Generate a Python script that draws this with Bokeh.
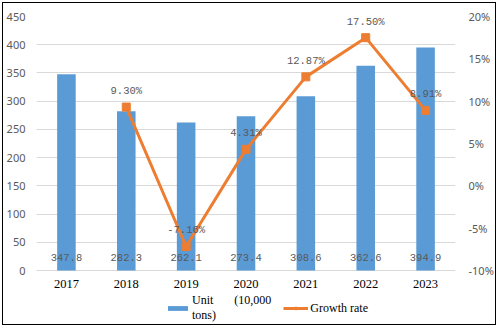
from bokeh.plotting import figure
from bokeh.models import (ColumnDataSource, Range1d, LinearAxis, FactorRange, FixedTicker,
                          PrintfTickFormatter, Legend, LegendItem)
from bokeh.embed import file_html
from bokeh.resources import INLINE
from bokeh.core.properties import value

years = ["2017", "2018", "2019", "2020", "2021", "2022", "2023"]
output = [347.8, 282.3, 262.1, 273.4, 308.6, 362.6, 394.9]
growth_years = ["2018", "2019", "2020", "2021", "2022", "2023"]
growth = [9.30, -7.16, 4.31, 12.87, 17.50, 8.91]
left_ticks = [0, 50, 100, 150, 200, 250, 300, 350, 400, 450]
right_ticks = [-10, -5, 0, 5, 10, 15, 20]
bar_label = "Unit       (10,000\ntons)"
line_label = "Growth rate"

bar_src = ColumnDataSource(dict(x=years, y=output,
                                base=[0] * len(years),
                                txt=["%.1f" % v for v in output]))
line_src = ColumnDataSource(dict(x=growth_years, y=growth,
                                 txt=["%.2f%%" % v for v in growth]))

# the plot frame runs down to the bottom edge so that the legend below the
# category labels is not clipped; the ranges keep 0 / 450 and -10% / 20% aligned
p = figure(width=494, height=323, output_backend="svg", toolbar_location=None,
           x_range=FactorRange(*years, range_padding=0),
           y_range=Range1d(-99.1, 450),
           x_axis_location=None,
           min_border_left=32, min_border_right=42, min_border_top=13, min_border_bottom=0,
           styles={"border": "1px solid black", "margin-left": "2px", "margin-top": "2px"})
p.extra_y_ranges = {"g": Range1d(-16.61, 20)}
p.outline_line_color = None
p.background_fill_color = "white"
p.border_fill_color = "white"

gray = "#595959"
p.xgrid.visible = False
p.ygrid.grid_line_color = "#d9d9d9"
p.ygrid.ticker = FixedTicker(ticks=left_ticks)

p.yaxis.ticker = FixedTicker(ticks=left_ticks)
p.yaxis.axis_line_color = None
p.yaxis.major_tick_line_color = None
p.yaxis.minor_tick_line_color = None
p.yaxis.major_label_text_color = gray
p.yaxis.major_label_text_font = "Noto Sans"
p.yaxis.major_label_text_font_size = "11px"
p.yaxis.major_label_standoff = 5

ax2 = LinearAxis(y_range_name="g", ticker=FixedTicker(ticks=right_ticks),
                 formatter=PrintfTickFormatter(format="%d%%"))
ax2.axis_line_color = None
ax2.major_tick_line_color = None
ax2.minor_tick_line_color = None
ax2.major_label_text_color = gray
ax2.major_label_text_font = "Noto Sans"
ax2.major_label_text_font_size = "11px"
ax2.major_label_standoff = 7
p.add_layout(ax2, "right")

bars = p.vbar(x="x", top="y", bottom="base", width=0.31, source=bar_src,
              fill_color="#5b9bd5", line_color=None)
p.text(x="x", y="base", text="txt", source=bar_src, y_offset=-13,
       text_align="center", text_baseline="middle", text_color=gray,
       text_font=value("Liberation Mono"), text_font_size="10.5px")
# category labels
p.text(x="x", y="base", text="x", source=bar_src, y_offset=13,
       text_align="center", text_baseline="middle", text_color="#000000",
       text_font=value("Liberation Serif"), text_font_size="12.5px")

ln = p.line(x="x", y="y", source=line_src, y_range_name="g",
            line_color="#ed7d31", line_width=3)
mk = p.scatter(x="x", y="y", source=line_src, y_range_name="g", marker="square",
               size=8, fill_color="#ed7d31", line_color="#ed7d31")
p.text(x="x", y="y", text="txt", source=line_src, y_range_name="g", y_offset=-16,
       text_align="center", text_baseline="middle", text_color=gray,
       text_font=value("Liberation Mono"), text_font_size="10.5px")

legend = Legend(items=[LegendItem(label=bar_label, renderers=[bars]),
                       LegendItem(label=line_label, renderers=[ln, mk])],
                orientation="horizontal", location=(129, 3),
                label_text_font="Liberation Serif", label_text_font_size="12px",
                label_text_color="#000000", glyph_width=25, glyph_height=6,
                label_standoff=2, spacing=12, padding=0, margin=0,
                border_line_color=None, background_fill_alpha=0)
p.add_layout(legend, "center")

open("out.html", "w").write(file_html(p, INLINE))
